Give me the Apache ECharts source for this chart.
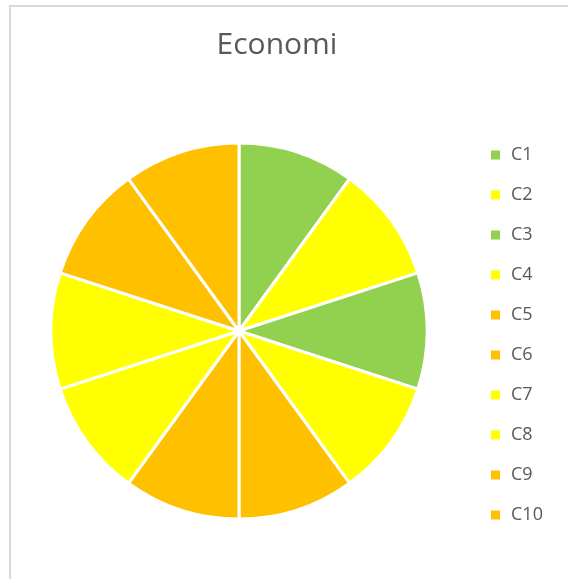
<!DOCTYPE html>
<html>
<head>
<meta charset="utf-8">
<style>
  html, body { margin: 0; padding: 0; background: #fff; }
  #chart { width: 568px; height: 579px; }
</style>
<script src="https://cdn.jsdelivr.net/npm/echarts@6/dist/echarts.min.js"></script>
</head>
<body>
<div id="chart"></div>
<script>
var categories = ['C1', 'C2', 'C3', 'C4', 'C5', 'C6', 'C7', 'C8', 'C9', 'C10']
var values = [1, 1, 1, 1, 1, 1, 1, 1, 1, 1]
var colors = ['#92D050', '#FFFF00', '#92D050', '#FFFF00', '#FFC000',
  '#FFC000', '#FFFF00', '#FFFF00', '#FFC000', '#FFC000']

var chart = echarts.init(document.getElementById('chart'))
chart.setOption({
  backgroundColor: '#ffffff',
  animation: false,
  graphic: [{
    type: 'rect',
    shape: { x: 10, y: 6, width: 600, height: 600 },
    style: { fill: 'none', stroke: '#D9D9D9', lineWidth: 2 }
  }],
  title: {
    text: 'Economi',
    left: 272,
    textAlign: 'center',
    top: 25,
    textStyle: {
      fontFamily: 'Open Sans',
      fontWeight: 'normal',
      fontSize: 30,
      color: '#595959'
    }
  },
  legend: {
    orient: 'vertical',
    left: 484,
    top: 140,
    icon: 'rect',
    itemWidth: 11,
    itemHeight: 11,
    itemGap: 20,
    data: categories,
    textStyle: {
      fontFamily: 'Open Sans',
      fontSize: 18,
      lineHeight: 20,
      padding: [0, 0, 0, 5],
      color: '#595959'
    }
  },
  series: [{
    type: 'pie',
    center: [239, 331],
    radius: 188,
    startAngle: 90,
    clockwise: true,
    label: { show: false },
    labelLine: { show: false },
    itemStyle: { borderColor: '#ffffff', borderWidth: 3 },
    data: categories.map(function (c, i) {
      return { name: c, value: values[i], itemStyle: { color: colors[i] } }
    })
  }]
})
</script>
</body>
</html>
